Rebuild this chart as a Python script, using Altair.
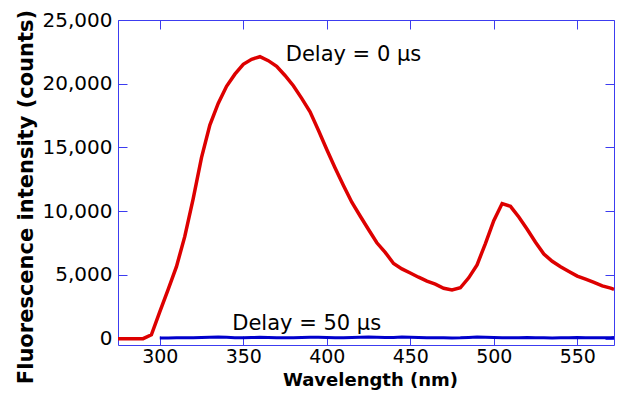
import altair as alt
import pandas as pd

# ---- data ----
wl_red = [275, 280, 285, 290, 295, 300, 305, 310, 315, 320, 325, 330, 335, 340, 345,
          350, 355, 360, 365, 370, 375, 380, 385, 390, 395, 400, 405, 410, 415, 420,
          425, 430, 435, 440, 445, 450, 455, 460, 465, 470, 475, 480, 485, 490, 495,
          500, 505, 510, 515, 520, 525, 530, 535, 540, 545, 550, 555, 560, 565, 570, 572]
counts_red = [0, 0, 0, 0, 300, 2100, 3850, 5650, 8020, 10960, 14200, 16750, 18450, 19800, 20750,
              21520, 21920, 22120, 21810, 21360, 20650, 19840, 18850, 17800, 16350, 14840, 13390, 12010, 10700, 9620,
              8560, 7520, 6770, 5900, 5470, 5150, 4820, 4510, 4270, 3950, 3820, 3990, 4770, 5790, 7460,
              9250, 10600, 10380, 9540, 8580, 7570, 6640, 6070, 5640, 5270, 4910, 4660, 4410, 4140, 3960, 3870]

wl_blue = [300, 305, 310, 315, 320, 325, 330, 335, 340, 345, 350, 355, 360, 365, 370,
           375, 380, 385, 390, 395, 400, 405, 410, 415, 420, 425, 430, 435, 440, 445,
           450, 455, 460, 465, 470, 475, 480, 485, 490, 495, 500, 505, 510, 515, 520,
           525, 530, 535, 540, 545, 550, 555, 560, 565, 570, 572]
counts_blue = [40, 50, 60, 70, 60, 80, 110, 120, 100, 70, 60, 80, 100, 90, 70,
               60, 70, 90, 110, 100, 80, 60, 70, 90, 110, 120, 100, 80, 90, 120,
               110, 80, 60, 70, 60, 50, 60, 90, 120, 100, 80, 70, 60, 70, 80,
               70, 60, 50, 60, 70, 80, 70, 60, 60, 70, 80]

x_ticks = [300, 350, 400, 450, 500, 550]
y_ticks = [0, 5000, 10000, 15000, 20000, 25000]

ann_text = ["Delay = 0 \u03bcs", "Delay = 50 \u03bcs"]
ann_x = [416, 388]
ann_y = [21760, 700]

# ---- styling ----
W, H = 496, 325
AX = "#3c3cf0"
FONT = "DejaVu Sans"

red_df = pd.DataFrame({"wl": wl_red, "c": counts_red})
blue_df = pd.DataFrame({"wl": wl_blue, "c": counts_blue})
ann0 = pd.DataFrame({"wl": [ann_x[0]], "c": [ann_y[0]], "t": [ann_text[0]]})
ann1 = pd.DataFrame({"wl": [ann_x[1]], "c": [ann_y[1]], "t": [ann_text[1]]})

xs = alt.Scale(domain=[275, 572], nice=False, zero=False)
ys = alt.Scale(domain=[-500, 25000], nice=False, zero=False)


def tick_axis(orient, offset, values):
    return alt.Axis(orient=orient, offset=offset, values=values, labels=False,
                    title=None, ticks=True, tickSize=9, tickColor=AX, tickWidth=1,
                    domain=False, grid=False)


red = alt.Chart(red_df).mark_line(color="#dd0000", strokeWidth=3.5).encode(
    x=alt.X("wl:Q", scale=xs, axis=alt.Axis(
        orient="bottom", values=x_ticks, ticks=False, tickSize=0, domain=False,
        grid=False, labelPadding=2, labelFont=FONT, labelFontSize=19,
        labelColor="black", labelOverlap=False, labelFlush=False,
        title="Wavelength (nm)", titleFont=FONT, titleFontSize=18,
        titleFontWeight="bold", titleColor="black", titleX=252, titleY=40,
        titleAlign="center", titleBaseline="alphabetic")),
    y=alt.Y("c:Q", scale=ys, axis=alt.Axis(
        orient="left", values=y_ticks, format=",d", ticks=False, tickSize=0,
        domain=False, grid=False, labelPadding=6, labelFont=FONT,
        labelFontSize=20, labelColor="black", labelOverlap=False,
        title="Fluorescence intensity (counts)", titleFont=FONT,
        titleFontSize=21, titleFontWeight="bold", titleColor="black",
        titleX=-86, titleY=176.5, titleAngle=270, titleAlign="center",
        titleBaseline="alphabetic")),
)

blue = alt.Chart(blue_df).mark_line(color="#0000cc", strokeWidth=3).encode(
    x=alt.X("wl:Q", scale=xs, axis=tick_axis("top", -H, x_ticks)),
    y=alt.Y("c:Q", scale=ys, axis=tick_axis("right", -W, y_ticks)),
)

t0 = alt.Chart(ann0).mark_text(font=FONT, fontSize=21, color="black",
                               align="center", baseline="alphabetic").encode(
    x=alt.X("wl:Q", scale=xs, axis=tick_axis("bottom", -H, x_ticks)),
    y=alt.Y("c:Q", scale=ys, axis=tick_axis("left", -W, y_ticks)),
    text="t:N",
)

t1 = alt.Chart(ann1).mark_text(font=FONT, fontSize=21, color="black",
                               align="center", baseline="alphabetic").encode(
    x=alt.X("wl:Q", scale=xs, axis=None),
    y=alt.Y("c:Q", scale=ys, axis=None),
    text="t:N",
)

chart = alt.layer(red, blue, t0, t1).resolve_axis(
    x="independent", y="independent"
).properties(
    width=W, height=H,
    padding={"left": 110, "top": 12, "right": 1, "bottom": 45},
    autosize=alt.AutoSizeParams(type="none"),
).configure_view(stroke=AX, strokeWidth=1)

chart.save("out.html", embed_options={"renderer": "svg", "actions": False})
